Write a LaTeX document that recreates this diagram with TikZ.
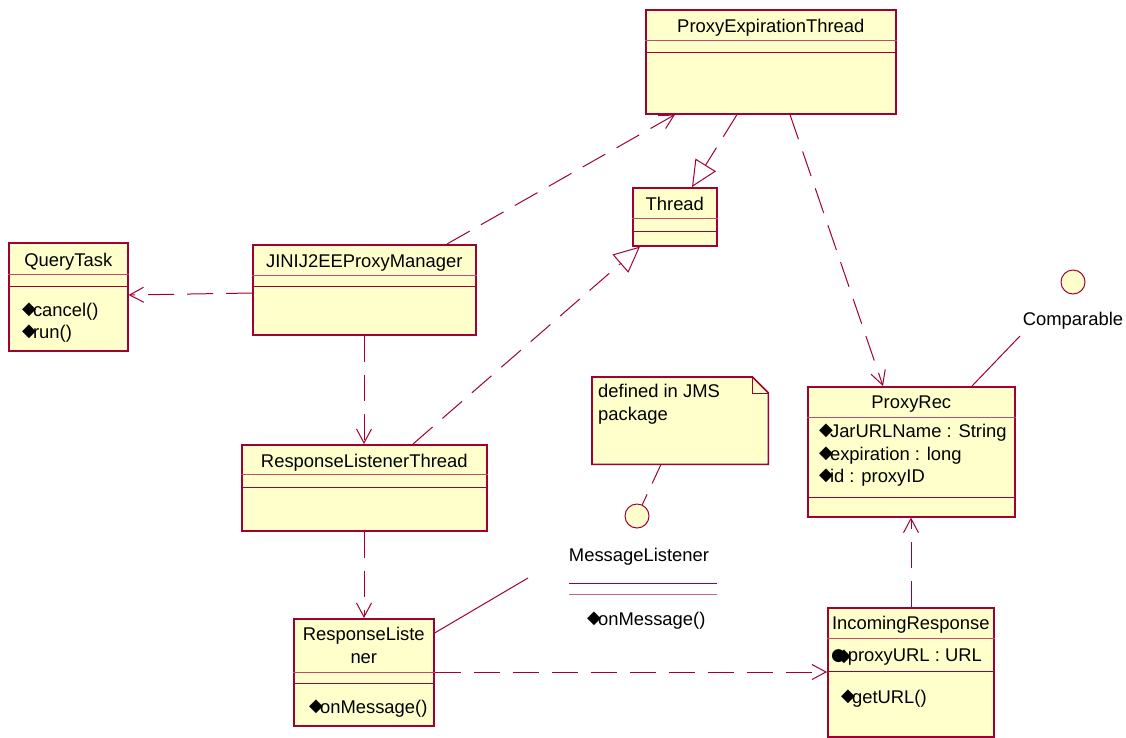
\documentclass[tikz,border=0pt]{standalone}
\usepackage{fontspec}
\setmainfont{Liberation Sans}
\newfontfamily\dejavu{DejaVu Sans}
\usepackage{tikz}
\usetikzlibrary{arrows.meta,positioning}

\definecolor{umlred}{RGB}{160,0,50}
\definecolor{umlfill}{RGB}{255,255,204}

\newcommand{\opm}{\raisebox{1.5pt}{\dejavu\fontsize{18}{18}\selectfont ◆}\kern-3pt}
\newcommand{\privm}{\raisebox{1pt}{\dejavu\fontsize{17}{17}\selectfont ●}\kern-9pt\raisebox{0pt}{\dejavu\fontsize{18}{18}\selectfont ◆}\kern-3pt}

\tikzset{
	cls/.style={draw=umlred, fill=umlfill, line width=1.6pt, inner sep=0pt, anchor=north west},
	sepline/.style={draw=umlred, line width=1pt},
	txt/.style={inner sep=0pt, font=\fontsize{18.4}{22}\selectfont},
	dep/.style={draw=umlred, line width=1pt, dash pattern=on 26pt off 13pt, -{Straight Barb[length=14pt,width=15pt,line width=1pt]}},
	real/.style={draw=umlred, line width=1pt, dash pattern=on 26pt off 13pt, -{Triangle[open,length=26pt,width=24pt,line width=1pt]}},
	lnk/.style={draw=umlred, line width=1pt},
	iface/.style={circle, draw=umlred, fill=umlfill, line width=1pt, minimum size=24pt, inner sep=0pt}
}

\begin{document}
\begin{tikzpicture}[x=1pt, y=-1pt]
	\useasboundingbox (0,0) rectangle (1126,737);

	% class boxes
	\node[cls, minimum width=250pt, minimum height=104pt] (pet) at (645,9) {};
	\node[cls, minimum width=119pt, minimum height=108pt] (qt) at (8,242) {};
	\node[cls, minimum width=223pt, minimum height=90pt] (jpm) at (252,244) {};
	\node[cls, minimum width=84pt, minimum height=58pt] (thr) at (632,187) {};
	\node[cls, minimum width=245pt, minimum height=86pt] (rlt) at (241,444) {};
	\node[cls, minimum width=140pt, minimum height=107pt] (rl) at (293,618) {};
	\node[cls, minimum width=207pt, minimum height=130pt] (pr) at (807,386) {};
	\node[cls, minimum width=166pt, minimum height=129pt] (ir) at (827,607) {};

	\foreach \n/\a/\b in {pet/31/43, qt/32/44, jpm/31/42, thr/31/44, rlt/30/43, rl/54/65, pr/31/111, ir/31/64}{
		\draw[sepline, draw=umlred!70] ([yshift=-\a]\n.north west) -- ([yshift=-\a]\n.north east);
		\draw[sepline] ([yshift=-\b]\n.north west) -- ([yshift=-\b]\n.north east);
	}

	% names
	\node[txt, anchor=base] (petname) at ([yshift=-23]pet.north) {ProxyExpirationThread};
	\node[txt, anchor=base] (qtname) at ([yshift=-24]qt.north) {QueryTask};
	\node[txt, anchor=base] (jpmname) at ([yshift=-23]jpm.north) {JINIJ2EEProxyManager};
	\node[txt, anchor=base] (thrname) at ([yshift=-23]thr.north) {Thread};
	\node[txt, anchor=base] (rltname) at ([yshift=-23]rlt.north) {ResponseListenerThread};
	\node[txt, anchor=base] (rlname) at ([yshift=-22]rl.north) {ResponseListe};
	\node[txt, anchor=base] (rlname2) at ([yshift=-45]rl.north) {ner};
	\node[txt, anchor=base] (prname) at ([yshift=-22]pr.north) {ProxyRec};
	\node[txt, anchor=base] (irname) at ([yshift=-22]ir.north) {IncomingResponse};

	% members
	\node[txt, anchor=base west] (qtcancel) at (22,316) {\opm cancel()};
	\node[txt, anchor=base west] (qtrun) at (22,338) {\opm run()};
	\node[txt, anchor=base west] (rlmsg) at (309,713) {\opm onMessage()};
	\node[txt, anchor=base west] (prjar) at (819,437) {\opm JarURLName : String};
	\node[txt, anchor=base west] (prexp) at (819,460) {\opm expiration : long};
	\node[txt, anchor=base west] (prid) at (819,482) {\opm id : proxyID};
	\node[txt, anchor=base west] (irurl) at (831,661) {\privm proxyURL : URL};
	\node[txt, anchor=base west] (irget) at (841,703) {\opm getURL()};

	% note
	\node[inner sep=0pt, minimum width=176pt, minimum height=87pt, anchor=north west] (note) at (592,377) {};
	\filldraw[draw=umlred, fill=umlfill, line width=1.6pt] (note.south west) -- (note.north west) -- ([xshift=-16]note.north east) -- ([yshift=-16]note.north east) -- (note.south east) -- cycle;
	\draw[sepline] ([xshift=-16]note.north east) -- ([xshift=-16,yshift=-16]note.north east) -- ([yshift=-16]note.north east);
	\node[txt, anchor=base west] (notel1) at (598,397) {defined in JMS};
	\node[txt, anchor=base west] (notel2) at (598,420) {package};

	% interfaces
	\node[iface] (ml) at (637,516) {};
	\node[txt, anchor=base] (mlname) at (639,561) {MessageListener};
	\draw[sepline] (569,583) -- (717,583);
	\draw[sepline, draw=umlred!60] (569,594) -- (717,594);
	\node[txt, anchor=base west] (mlmsg) at (587,625) {\opm onMessage()};
	\coordinate (mlend) at (528,578);

	\node[iface] (comp) at (1073,282) {};
	\node[txt, anchor=base] (compname) at (1073,325) {Comparable};
	\coordinate (compend) at (1020,336);

	% connectors
	\draw[dep] ([xshift=195]jpm.north west) -- ([xshift=30]pet.south west);
	\draw[real] ([xshift=92]pet.south west) -- ([xshift=60]thr.north west);
	\draw[dep] ([xshift=145]pet.south west) -- ([xshift=76]pr.north west);
	\draw[dep] ([yshift=-49]jpm.north west) -- ([yshift=-53]qt.north east);
	\draw[dep] ([xshift=112]jpm.south west) -- ([xshift=123]rlt.north west);
	\draw[real] ([xshift=172]rlt.north west) -- ([xshift=8]thr.south west);
	\draw[dep] ([xshift=123]rlt.south west) -- ([xshift=71]rl.north west);
	\draw[lnk] ([yshift=-15]rl.north east) -- (mlend);
	\draw[dep] ([yshift=-54]rl.north east) -- ([yshift=-65]ir.north west);
	\draw[dep] ([xshift=84]ir.north west) -- ([xshift=104]pr.south west);
	\draw[lnk] ([xshift=165]pr.north west) -- (compend);
	\draw[lnk, dash pattern=on 21pt off 12pt] ([xshift=69]note.south west) -- (ml);
\end{tikzpicture}
\end{document}
